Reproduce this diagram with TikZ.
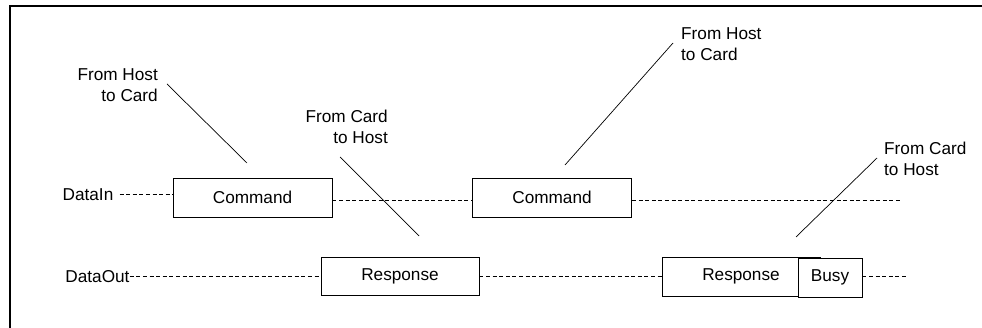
\documentclass[tikz,border=0pt]{standalone}
\usepackage{fontspec}
\setmainfont{Liberation Sans}
\begin{document}
\begin{tikzpicture}[x=1pt,y=-1pt,
  every node/.style={font=\fontsize{17.2}{20.7}\selectfont},
  box/.style={draw=black,line width=0.9pt,minimum width=159pt,minimum height=39pt,inner sep=0pt,fill=white},
  lbl/.style={inner sep=0pt},
  dsh/.style={line width=0.8pt,dash pattern=on 4pt off 2.6pt},
  lead/.style={line width=0.7pt},
  frame/.style={line width=2.3pt}]
\useasboundingbox (0,0) rectangle (982,328);
% frame
\draw[frame] (10.3,335) -- (10.3,6) -- (990,6);
% boxes
\node[box] (cmd1) at (252.5,197.5) {Command};
\node[box] (cmd2) at (552,197.5) {Command};
\node[box,minimum width=158pt,minimum height=38pt] (resp1) at (400,276) {Response};
\node[box,minimum width=158pt] (resp2) at (741,276.5) {Response};
\node[box,minimum width=64pt] (busy) at (830,277.5) {Busy};
% signal labels
\node[lbl] (din) at (88,194.5) {DataIn};
\node[lbl] (dout) at (97.5,276.5) {DataOut};
% free ends
\coordinate (inend) at (901,200);
\coordinate (outend) at (908,276);
% dashed lines
\draw[dsh] ([xshift=6pt]din.east) -- (din.east -| cmd1.west);
\draw[dsh] ([yshift=-2.5pt]cmd1.east) -- ([yshift=-2.5pt]cmd2.west);
\draw[dsh] ([yshift=-2.5pt]cmd2.east) -- (inend);
\draw[dsh] (dout.east) -- (dout.east -| resp1.west);
\draw[dsh] (resp1.east) -- (resp1.east -| resp2.west);
\draw[dsh] (busy.east |- outend) -- (outend);
% direction labels
\node[lbl,anchor=north east,align=right] (h1) at (158,68.3) {From Host\\to Card};
\node[lbl,anchor=north east,align=right] (c1) at (388,110) {From Card\\to Host};
\node[lbl,anchor=north west,align=left] (h2) at (681,27.3) {From Host\\to Card};
\node[lbl,anchor=north west,align=left] (c2) at (884,141.7) {From Card\\to Host};
% leader lines
\coordinate (h1a) at (167,84);   \coordinate (h1b) at (247,163);
\coordinate (c1a) at (340,157);  \coordinate (c1b) at (419,236);
\coordinate (h2a) at (673,43);   \coordinate (h2b) at (565,165);
\coordinate (c2a) at (877,158);  \coordinate (c2b) at (796,237);
\draw[lead] (h1a) -- (h1b);
\draw[lead] (c1a) -- (c1b);
\draw[lead] (h2a) -- (h2b);
\draw[lead] (c2a) -- (c2b);
\end{tikzpicture}
\end{document}
